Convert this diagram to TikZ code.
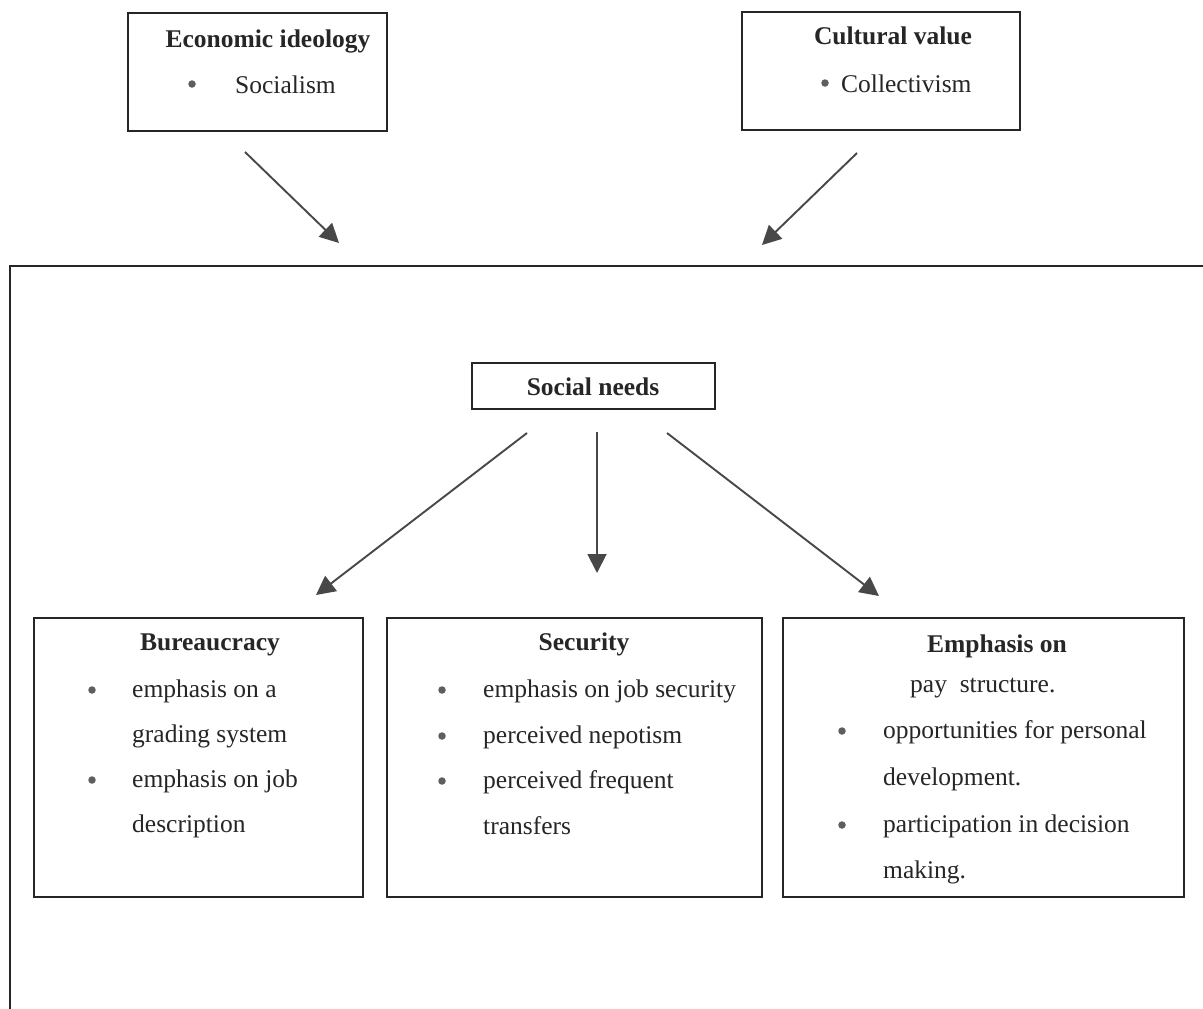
\documentclass[tikz,border=0pt]{standalone}
\usepackage{fontspec}
\setmainfont{Liberation Serif}
\usetikzlibrary{arrows.meta}
\definecolor{ink}{HTML}{262626}
\definecolor{arrowgray}{HTML}{484848}
\definecolor{dotgray}{HTML}{5E5E5E}
\begin{document}
\begin{tikzpicture}[x=1pt,y=-1pt,
  box/.style={draw=ink, line width=1.6pt, rectangle, inner sep=0pt},
  txt/.style={anchor=base west, inner sep=0pt, text=ink, font=\fontsize{25.5}{30}\selectfont},
  ttl/.style={anchor=base, inner sep=0pt, text=ink, font=\fontsize{25.5}{30}\selectfont\bfseries},
  bul/.style={circle, fill=dotgray, inner sep=0pt, minimum size=7.5pt},
  arr/.style={draw=arrowgray, line width=1.9pt, -{Triangle[length=19pt,width=19pt]}},
  frameline/.style={draw=ink, line width=1.6pt}]
\useasboundingbox (0,0) rectangle (1203,1009);
\fill[white] (0,0) rectangle (1203,1009);

% outer frame (cut at right and bottom)
\draw[frameline] (10,1012) -- (10,266) -- (1206,266);

% top boxes
\node[box, minimum width=259pt, minimum height=118pt] (eco) at (257.5,72) {};
\node[ttl] (ecoT) at (268,47) {Economic ideology};
\node[bul] (ecoB) at (192,84) {};
\node[txt] (ecoL) at (235,93) {Socialism};

\node[box, minimum width=278pt, minimum height=118pt] (cul) at (881,71) {};
\node[ttl] (culT) at (893,45) {Cultural value};
\node[bul] (culB) at (825,83) {};
\node[txt] (culL) at (841,92) {Collectivism};

% arrows into frame
\coordinate (a1s) at (245,152);
\coordinate (a1e) at (339,243);
\coordinate (a2s) at (857,153);
\coordinate (a2e) at (762,245);
\draw[arr] (a1s) -- (a1e);
\draw[arr] (a2s) -- (a2e);

% social needs
\node[box, minimum width=243pt, minimum height=46pt] (soc) at (593.5,386) {};
\node[ttl] (socT) at (593,395) {Social needs};

\coordinate (s1s) at (527,433);
\coordinate (s1e) at (316,595);
\coordinate (s2s) at (597,432);
\coordinate (s2e) at (597,573);
\coordinate (s3s) at (667,433);
\coordinate (s3e) at (879,596);
\draw[arr] (s1s) -- (s1e);
\draw[arr] (s2s) -- (s2e);
\draw[arr] (s3s) -- (s3e);

% Bureaucracy
\node[box, minimum width=329pt, minimum height=279pt] (bur) at (198.5,757.5) {};
\node[ttl] (burT) at (210,650) {Bureaucracy};
\node[bul] (burB1) at (92,690) {};
\node[txt] (burL1) at (132,697) {emphasis on a};
\node[txt] (burL2) at (132,742) {grading system};
\node[bul] (burB2) at (92,780) {};
\node[txt] (burL3) at (132,787) {emphasis on job};
\node[txt] (burL4) at (132,832) {description};

% Security
\node[box, minimum width=375pt, minimum height=279pt] (sec) at (574.5,757.5) {};
\node[ttl] (secT) at (584,650) {Security};
\node[bul] (secB1) at (442,690) {};
\node[txt] (secL1) at (483,697) {emphasis on job security};
\node[bul] (secB2) at (442,736) {};
\node[txt] (secL2) at (483,743) {perceived nepotism};
\node[bul] (secB3) at (442,781) {};
\node[txt] (secL3) at (483,788) {perceived frequent};
\node[txt] (secL4) at (483,834) {transfers};

% Emphasis on
\node[box, minimum width=401pt, minimum height=279pt] (emp) at (983.5,757.5) {};
\node[ttl] (empT) at (997,652) {Emphasis on};
\node[txt] (empL0) at (910,692) {pay\ \ structure.};
\node[bul] (empB1) at (842,731) {};
\node[txt] (empL1) at (883,738) {opportunities for personal};
\node[txt] (empL2) at (883,785) {development.};
\node[bul] (empB2) at (842,825) {};
\node[txt] (empL3) at (883,832) {participation in decision};
\node[txt] (empL4) at (883,878) {making.};
\end{tikzpicture}
\end{document}
